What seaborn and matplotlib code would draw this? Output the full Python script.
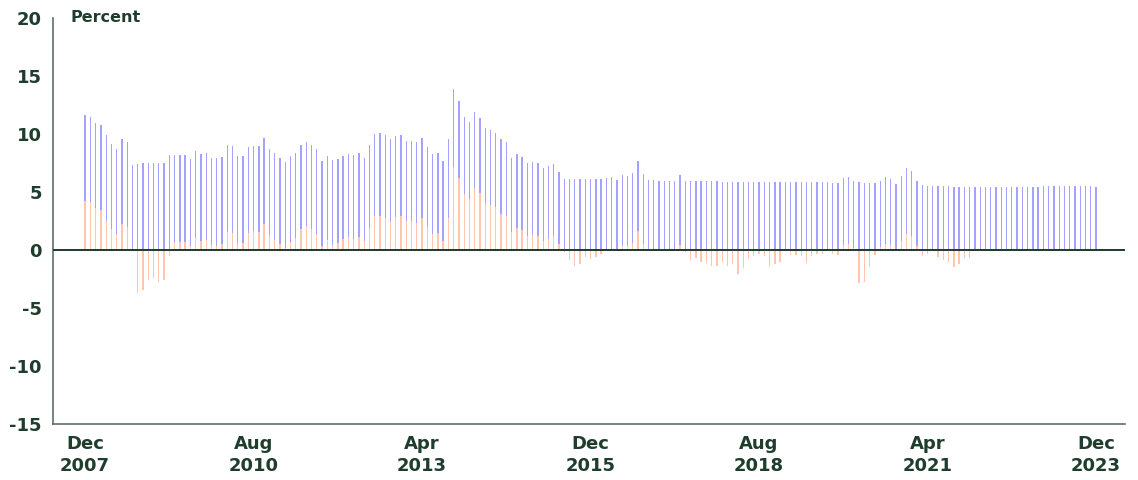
import seaborn as sns
import pandas as pd
import numpy as np
import matplotlib.pyplot as plt

# monthly series, Dec 2007 .. Dec 2023
months = pd.date_range("2007-12-01", periods=193, freq="MS")

blue_vals = [
    11.6, 11.5, 10.95, 10.78, 9.91, 9.14, 8.71, 9.57, 9.31, 7.33,
    7.44, 7.5, 7.47, 7.5, 7.5, 7.5, 8.16, 8.16, 8.19, 8.2,
    7.87, 8.53, 8.28, 8.36, 7.93, 7.9, 8.02, 9.02, 8.94, 8.07,
    8.07, 8.88, 8.99, 8.97, 9.66, 8.71, 8.33, 7.9, 7.56, 8.1,
    8.39, 9.08, 9.34, 9.08, 8.68, 7.64, 8.1, 7.73, 7.82, 8.13,
    8.3, 8.19, 8.36, 7.93, 9.05, 10.0, 10.06, 9.91, 9.54, 9.86,
    9.89, 9.43, 9.37, 9.28, 9.66, 8.88, 8.28, 8.33, 7.64, 9.57,
    13.85, 12.84, 11.44, 11.03, 11.87, 11.41, 10.52, 10.34, 10.11, 9.54,
    9.31, 7.93, 8.25, 8.02, 7.47, 7.59, 7.47, 7.07, 7.21, 7.41,
    6.72, 6.15, 6.15, 6.15, 6.12, 6.12, 6.12, 6.12, 6.1, 6.18,
    6.28, 6.04, 6.44, 6.38, 6.65, 7.64, 6.52, 6.0, 6.0, 5.95,
    5.95, 5.95, 5.95, 6.44, 5.92, 5.92, 5.92, 5.92, 5.92, 5.92,
    5.92, 5.9, 5.9, 5.9, 5.9, 5.9, 5.89, 5.89, 5.89, 5.89,
    5.86, 5.86, 5.86, 5.86, 5.86, 5.86, 5.83, 5.86, 5.85, 5.86,
    5.86, 5.83, 5.8, 5.8, 6.23, 6.32, 5.98, 5.86, 5.8, 5.78,
    5.75, 5.95, 6.26, 6.12, 5.69, 6.38, 7.04, 6.84, 5.95, 5.58,
    5.55, 5.52, 5.49, 5.49, 5.49, 5.46, 5.43, 5.43, 5.43, 5.43,
    5.43, 5.43, 5.43, 5.43, 5.43, 5.43, 5.43, 5.45, 5.45, 5.43,
    5.43, 5.45, 5.49, 5.49, 5.49, 5.49, 5.49, 5.49, 5.49, 5.49,
    5.49, 5.49, 5.43,
]

orange_vals = [
    4.22, 4.14, 3.62, 3.45, 2.53, 1.81, 1.35, 2.21, 1.98, -0.1,
    -3.73, -3.45, -2.59, -2.41, -2.79, -2.59, -0.49, 0.69, 0.69, 0.72,
    0.34, 1.03, 0.75, 0.86, 0.43, 0.37, 0.52, 1.52, 1.46, 0.6,
    0.6, 1.44, 1.64, 1.55, 2.24, 1.32, 0.9, 0.55, 0.14, 0.72,
    1.06, 1.78, 2.07, 1.81, 1.38, 0.34, 0.83, 0.43, 0.57, 0.92,
    1.09, 0.95, 1.15, 0.75, 1.9, 2.9, 2.93, 2.79, 2.5, 2.82,
    2.9, 2.47, 2.47, 2.3, 2.76, 1.98, 1.41, 1.44, 0.78, 2.77,
    7.16, 6.2, 4.8, 4.4, 5.34, 4.9, 4.05, 3.88, 3.74, 3.13,
    2.93, 1.55, 1.9, 1.72, 1.21, 1.32, 1.23, 0.8, 0.95, 1.23,
    0.52, -0.2, -0.83, -1.38, -1.2, -0.57, -0.75, -0.63, -0.32, 0.03,
    0.1, -0.1, 0.36, 0.37, 0.6, 1.65, 0.51, -0.1, -0.05, -0.1,
    -0.1, -0.1, -0.1, 0.43, -0.2, -0.83, -0.72, -1.0, -1.12, -1.35,
    -1.35, -1.06, -1.38, -1.2, -2.04, -1.52, -0.75, -0.49, -0.32, -0.49,
    -1.47, -1.2, -1.06, -0.05, -0.4, -0.4, -0.56, -1.13, -0.53, -0.34,
    -0.37, 0.0, -0.34, -0.46, 0.4, 0.55, 0.2, -2.87, -2.76, -1.44,
    -0.4, 0.23, 0.55, 0.43, 0.1, 0.75, 1.38, 1.21, 0.32, -0.49,
    -0.37, 0.0, -0.6, -0.86, -1.0, -1.49, -1.24, -0.72, -0.72, 0.0,
    0.0, 0.0, 0.0, 0.0, 0.0, 0.0, 0.0, 0.0, 0.0, 0.0,
    0.0, 0.0, 0.0, 0.0, 0.0, 0.0, 0.0, 0.0, 0.0, 0.0,
    0.0, 0.0, 0.0,
]

tick_idx = [0, 32, 64, 96, 128, 160, 192]
y_ticks = [-15, -10, -5, 0, 5, 10, 15, 20]

df = pd.DataFrame({"idx": np.arange(len(months)), "blue": blue_vals, "orange": orange_vals})

txt = "#1f3d2d"
spine = "#5f6f67"

sns.set_style("white")
plt.rcParams["font.family"] = ["DejaVu Sans"]

fig = plt.figure(figsize=(11.38, 4.8), dpi=100)
ax = fig.add_axes([53 / 1138, 1 - 424 / 480, (1125 - 53) / 1138, (424 - 18) / 480])

sns.barplot(data=df, x="idx", y="blue", color="#a3a3ff", saturation=1,
            width=0.25, linewidth=0, ax=ax)
sns.barplot(data=df, x="idx", y="orange", color="#ffc6ad", saturation=1,
            width=0.25, linewidth=0, ax=ax)

ax.axhline(0, color="#1d3a2a", lw=1.4, zorder=5)

ax.set_xlim(-6.1, 197.5)
ax.set_ylim(-15, 20)
ax.set_yticks(y_ticks)
ax.set_yticklabels([str(v) for v in y_ticks], fontsize=13, fontweight="bold", color=txt)
ax.set_xticks(tick_idx)
ax.set_xticklabels([months[i].strftime("%b") + "\n" + months[i].strftime("%Y") for i in tick_idx],
                   fontsize=13, fontweight="bold", color=txt, linespacing=1.3)
ax.tick_params(axis="y", direction="in", length=5, width=1, color=spine, pad=8)
ax.tick_params(axis="x", direction="in", length=4, width=1, color=spine, pad=8)
ax.set_xlabel("")
ax.set_ylabel("")

for s in ["top", "right"]:
    ax.spines[s].set_visible(False)
for s in ["left", "bottom"]:
    ax.spines[s].set_color(spine)
    ax.spines[s].set_linewidth(1.2)

ax.text(0.016, 1.0, "Percent", transform=ax.transAxes, fontsize=11.5, fontweight="bold",
        color=txt, va="center", ha="left")

fig.savefig("out.png", dpi=100)
